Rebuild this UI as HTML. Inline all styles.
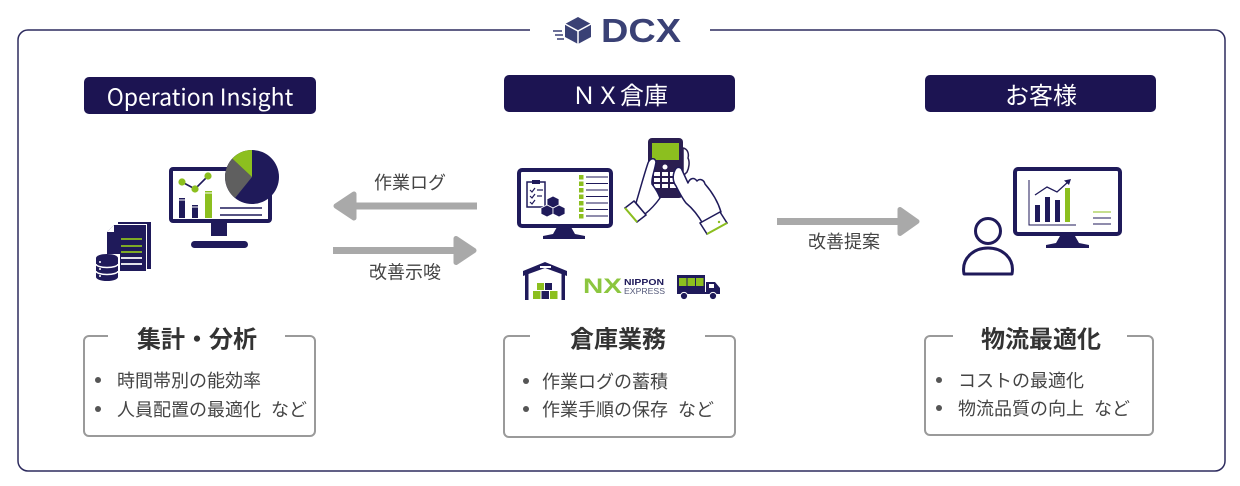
<!DOCTYPE html>
<html>
<head>
<meta charset="utf-8">
<style>
html,body{margin:0;padding:0;background:#fff;}
body{width:1240px;height:486px;overflow:hidden;}
svg{display:block;}
text{font-family:"Noto Sans CJK JP","Liberation Sans",sans-serif;}
</style>
</head>
<body>
<svg width="1240" height="486" viewBox="0 0 1240 486" xmlns="http://www.w3.org/2000/svg">
<rect width="1240" height="486" fill="#ffffff"/>

<!-- outer frame -->
<path d="M530,30 L28,30 A10,10 0 0 0 18,40 L18,461 A10,10 0 0 0 28,471 L1215,471 A10,10 0 0 0 1225,461 L1225,40 A10,10 0 0 0 1215,30 L710,30" fill="none" stroke="#2d2b5e" stroke-width="1.5"/>

<!-- DCX logo -->
<g>
  <line x1="553" y1="31" x2="562" y2="31" stroke="#3a4175" stroke-width="1.5"/>
  <line x1="555" y1="35" x2="563" y2="35" stroke="#3a4175" stroke-width="1.5"/>
  <line x1="557" y1="39" x2="564" y2="39" stroke="#3a4175" stroke-width="1.5"/>
  <polygon points="578,17 591,24 591,37 578,44 565,37 565,24" fill="#3a4175"/>
  <polyline points="565,24 578,31 591,24" fill="none" stroke="#fff" stroke-width="1.5"/>
  <line x1="578" y1="31" x2="578" y2="44" stroke="#fff" stroke-width="1.5"/>
  <text x="601" y="42" font-family="Liberation Sans, sans-serif" font-weight="bold" font-size="33" fill="#3a4175" textLength="80" lengthAdjust="spacingAndGlyphs" style="font-family:'Liberation Sans',sans-serif">DCX</text>
</g>

<!-- header boxes -->
<rect x="84" y="77" width="232" height="37" rx="5" fill="#1c1452"/>
<text x="200" y="95.5" text-anchor="middle" dominant-baseline="central" font-size="23" fill="#ffffff">Operation Insight</text>
<rect x="504" y="75" width="231" height="37" rx="5" fill="#1c1452"/>
<text x="620" y="93.5" text-anchor="middle" dominant-baseline="central" font-size="24" fill="#ffffff">ＮＸ倉庫</text>
<rect x="925" y="75" width="231" height="37" rx="5" fill="#1c1452"/>
<text x="1041" y="93.5" text-anchor="middle" dominant-baseline="central" font-size="24" fill="#ffffff">お客様</text>

<!-- Operation Insight icon -->
<g>
  <rect x="171" y="169" width="99" height="52" rx="2" fill="#fff" stroke="#1f1a5a" stroke-width="4"/>
  <rect x="211" y="223" width="16" height="13" fill="#1f1a5a"/>
  <rect x="191" y="241" width="57" height="7" rx="3.5" fill="#1f1a5a"/>
  <polyline points="182,182 195,189 208,176" fill="none" stroke="#1f1a5a" stroke-width="1.6"/>
  <circle cx="182" cy="182" r="3.6" fill="#8cbf1f"/>
  <circle cx="195" cy="189" r="3.6" fill="#8cbf1f"/>
  <circle cx="208" cy="176" r="3.6" fill="#8cbf1f"/>
  <rect x="179" y="198" width="6" height="20" fill="#1f1a5a"/>
  <rect x="179" y="199.5" width="6" height="1" fill="#fff"/>
  <rect x="192" y="205" width="6" height="13" fill="#1f1a5a"/>
  <rect x="192" y="206.5" width="6" height="1" fill="#fff"/>
  <rect x="205" y="191" width="7" height="27" fill="#8cbf1f"/>
  <rect x="205" y="192.5" width="7" height="1" fill="#fff"/>
  <line x1="220" y1="208" x2="262" y2="208" stroke="#1f1a5a" stroke-width="1.5"/>
  <line x1="220" y1="215" x2="262" y2="215" stroke="#1f1a5a" stroke-width="1.5"/>
  <circle cx="252" cy="177" r="27" fill="#1f1a5a"/>
  <path d="M252,177 L235,198 A27,27 0 0 1 232.3,158.6 Z" fill="#5f5f5f"/>
  <path d="M252,177 L232.3,158.6 A27,27 0 0 1 252,150 Z" fill="#8cbf1f"/>
  <!-- docs -->
  <rect x="118" y="222" width="33" height="47" fill="#1f1a5a"/>
  <rect x="116" y="224" width="31" height="46" fill="#fff"/>
  <polygon points="107,232 114,225 146,225 146,271 107,271" fill="#1f1a5a"/>
  <polygon points="107,232 114,232 114,225" fill="#fff"/>
  <line x1="121" y1="239" x2="142" y2="239" stroke="#8cbf1f" stroke-width="1.8"/>
  <line x1="121" y1="246" x2="142" y2="246" stroke="#8cbf1f" stroke-width="1.8"/>
  <line x1="121" y1="252" x2="142" y2="252" stroke="#8cbf1f" stroke-width="1.8"/>
  <line x1="121" y1="258" x2="142" y2="258" stroke="#fff" stroke-width="1.8"/>
  <line x1="121" y1="264" x2="142" y2="264" stroke="#fff" stroke-width="1.8"/>
  <!-- database -->
  <rect x="95" y="254" width="25" height="28" fill="#fff"/>
  <path d="M96,258 A11,4 0 0 1 118,258 L118,277 A11,4 0 0 1 96,277 Z" fill="#1f1a5a"/>
  <path d="M96,264 A11,3.5 0 0 0 118,264" fill="none" stroke="#fff" stroke-width="1.5"/>
  <path d="M96,271 A11,3.5 0 0 0 118,271" fill="none" stroke="#fff" stroke-width="1.5"/>
  <circle cx="100" cy="262" r="1" fill="#fff"/>
  <circle cx="100" cy="269" r="1" fill="#fff"/>
  <circle cx="100" cy="276" r="1" fill="#fff"/>
</g>

<!-- arrows -->
<g fill="#a9a9a9" stroke="#a9a9a9" stroke-linejoin="round">
  <rect x="350" y="202.5" width="127" height="7" stroke="none"/>
  <polygon points="336,206 354,194 354,218" stroke-width="5"/>
  <rect x="333" y="247" width="127" height="7" stroke="none"/>
  <polygon points="474,250.5 456,238.5 456,262.5" stroke-width="5"/>
  <rect x="777" y="218" width="128" height="7" stroke="none"/>
  <polygon points="917,221.5 900,209.5 900,233.5" stroke-width="5"/>
</g>
<text x="410" y="182" text-anchor="middle" dominant-baseline="central" font-size="18" fill="#444">作業ログ</text>
<text x="405" y="271.5" text-anchor="middle" dominant-baseline="central" font-size="18" fill="#444">改善示唆</text>
<text x="844" y="241" text-anchor="middle" dominant-baseline="central" font-size="18" fill="#444">改善提案</text>

<!-- NX warehouse icons -->
<g>
  <rect x="519" y="170" width="92" height="56" rx="3" fill="#fff" stroke="#1f1a5a" stroke-width="4"/>
  <polygon points="557,227 571,227 575,234 585,236 585,239 543,239 543,236 553,234" fill="#1f1a5a"/>
  <!-- clipboard -->
  <rect x="527" y="182" width="18" height="25" fill="#fff" stroke="#1f1a5a" stroke-width="1.5"/>
  <rect x="532" y="180" width="8" height="4" fill="#1f1a5a"/>
  <polyline points="530,190 532,192 535,188" fill="none" stroke="#1f1a5a" stroke-width="1.2"/>
  <line x1="537" y1="190" x2="543" y2="190" stroke="#1f1a5a" stroke-width="1.2"/>
  <polyline points="530,196 532,198 535,194" fill="none" stroke="#1f1a5a" stroke-width="1.2"/>
  <line x1="537" y1="196" x2="542" y2="196" stroke="#1f1a5a" stroke-width="1.2"/>
  <polyline points="530,202 532,204 535,200" fill="none" stroke="#1f1a5a" stroke-width="1.2"/>
  <!-- cubes -->
  <polygon points="553,196 559,199 559,205 553,208 547,205 547,199" fill="#1f1a5a" stroke="#fff" stroke-width="0.8"/>
  <polygon points="547,205 553,208 553,214 547,217 541,214 541,208" fill="#1f1a5a" stroke="#fff" stroke-width="0.8"/>
  <polygon points="559,205 565,208 565,214 559,217 553,214 553,208" fill="#1f1a5a" stroke="#fff" stroke-width="0.8"/>
  <!-- checklist -->
  <g fill="#8cbf1f">
    <rect x="579" y="175" width="4.5" height="4.5"/><rect x="579" y="181.5" width="4.5" height="4.5"/>
    <rect x="579" y="188" width="4.5" height="4.5"/><rect x="579" y="194.5" width="4.5" height="4.5"/>
    <rect x="579" y="201" width="4.5" height="4.5"/><rect x="579" y="207.5" width="4.5" height="4.5"/>
    <rect x="579" y="214" width="4.5" height="4.5"/>
  </g>
  <g stroke="#1f1a5a" stroke-width="0.9">
    <line x1="586" y1="177" x2="608" y2="177"/><line x1="586" y1="183.5" x2="608" y2="183.5"/>
    <line x1="586" y1="190" x2="608" y2="190"/><line x1="586" y1="196.5" x2="608" y2="196.5"/>
    <line x1="586" y1="203" x2="608" y2="203"/><line x1="586" y1="209.5" x2="608" y2="209.5"/>
    <line x1="586" y1="216" x2="608" y2="216"/>
  </g>
  <!-- handheld -->
  <path d="M683,148 C688,149 689,154 688,158 C690,162 689,168 687,172 L683,176 Z" fill="#fff" stroke="#2a1e50" stroke-width="1.5"/>
  <rect x="648" y="138" width="35" height="60" rx="4" fill="#2a1e50"/>
  <rect x="652" y="143" width="27" height="17" fill="#8cbf1f"/>
  <g fill="#fff">
    <circle cx="665" cy="167" r="2.5"/>
    <rect x="654" y="172" width="6" height="4"/><rect x="662" y="172" width="6" height="4"/><rect x="670" y="172" width="6" height="4"/>
    <rect x="654" y="178" width="6" height="4"/><rect x="662" y="178" width="6" height="4"/><rect x="670" y="178" width="6" height="4"/>
    <rect x="654" y="184" width="6" height="4"/><rect x="662" y="184" width="6" height="4"/><rect x="670" y="184" width="6" height="4"/>
  </g>
  <!-- left hand -->
  <path d="M636,203 C640,190 643,178 648,163 C650,158 655,157 656,162 C655,170 651,178 652,184 C655,188 658,192 660,198 C655,205 650,210 645,214 Z" fill="#fff" stroke="#1f1a5a" stroke-width="1.5" stroke-linejoin="round"/>
  <polygon points="625,208 634,201 646,215 637,222" fill="#fff" stroke="#1f1a5a" stroke-width="1.5"/>
  <line x1="625" y1="208" x2="637" y2="222" stroke="#8cbf1f" stroke-width="2"/>
  <!-- right hand -->
  <path d="M675,170 C677,166 681,167 682,170 L688,183 C690,178 694,177 697,181 C700,178 704,180 705,184 C712,192 718,202 721,212 L703,224 C698,215 692,208 686,203 C682,198 679,192 676,186 C673,182 672,176 675,170 Z" fill="#fff" stroke="#1f1a5a" stroke-width="1.5" stroke-linejoin="round"/>
  <polygon points="700,223 720,212 727,223 707,234" fill="#fff" stroke="#1f1a5a" stroke-width="1.5"/>
  <line x1="707" y1="234" x2="727" y2="223" stroke="#8cbf1f" stroke-width="2"/>
  <circle cx="719" cy="222" r="1.2" fill="#8cbf1f"/>
  <!-- warehouse -->
  <polygon points="545,262 567,271 567,276 545,268 523,276 523,271" fill="#1f1a5a"/>
  <rect x="525" y="273" width="3.5" height="27" fill="#1f1a5a"/>
  <rect x="561.5" y="273" width="3.5" height="27" fill="#1f1a5a"/>
  <rect x="540" y="266" width="11" height="2" fill="#fff"/>
  <rect x="537" y="283" width="7" height="7" fill="#8cbf1f"/>
  <rect x="545" y="283" width="7" height="7" fill="#1f1a5a"/>
  <rect x="533" y="291" width="7.5" height="8" fill="#8cbf1f"/>
  <rect x="541.5" y="291" width="7.5" height="8" fill="#1f1a5a"/>
  <rect x="550" y="291" width="7.5" height="8" fill="#8cbf1f"/>
  <!-- NX logo -->
  <text x="583" y="293" font-family="Liberation Sans, sans-serif" font-weight="bold" font-size="21" fill="#8cc63f" textLength="39" lengthAdjust="spacingAndGlyphs" style="font-family:'Liberation Sans',sans-serif">NX</text>
  <text x="624" y="285" font-family="Liberation Sans, sans-serif" font-weight="bold" font-size="8.5" fill="#1f1a5a" textLength="40" lengthAdjust="spacingAndGlyphs" style="font-family:'Liberation Sans',sans-serif">NIPPON</text>
  <text x="624" y="294" font-family="Liberation Sans, sans-serif" font-size="8" fill="#555a7a" textLength="41" lengthAdjust="spacingAndGlyphs" style="font-family:'Liberation Sans',sans-serif">EXPRESS</text>
  <!-- truck -->
  <rect x="677" y="275" width="28" height="17" fill="#1f1a5a"/>
  <rect x="679" y="278" width="7.5" height="8" fill="#8cbf1f"/>
  <rect x="687.5" y="278" width="7.5" height="8" fill="#8cbf1f"/>
  <rect x="696" y="278" width="7.5" height="8" fill="#8cbf1f"/>
  <path d="M706,282 L715,282 L720,288 L720,294 L706,294 Z" fill="#1f1a5a"/>
  <rect x="709" y="284" width="5" height="4" fill="#fff"/>
  <rect x="677" y="292" width="43" height="2" fill="#1f1a5a"/>
  <circle cx="684" cy="296" r="3.6" fill="#1f1a5a" stroke="#fff" stroke-width="1"/>
  <circle cx="713" cy="296" r="3.6" fill="#1f1a5a" stroke="#fff" stroke-width="1"/>
</g>

<!-- customer icons -->
<g>
  <rect x="1015" y="169" width="105" height="65" rx="3" fill="#fff" stroke="#1f1a5a" stroke-width="4"/>
  <polygon points="1060,236 1075,236 1079,243 1089,245 1089,248 1046,248 1046,245 1056,243" fill="#1f1a5a"/>
  <polyline points="1029,180 1029,225 1076,225" fill="none" stroke="#1f1a5a" stroke-width="1"/>
  <rect x="1035" y="205" width="5" height="17" fill="#1f1a5a"/>
  <rect x="1045" y="197" width="5" height="25" fill="#1f1a5a"/>
  <rect x="1055" y="200" width="5" height="22" fill="#1f1a5a"/>
  <rect x="1065" y="188" width="5" height="34" fill="#8cbf1f"/>
  <polyline points="1035,195 1047,187 1057,192 1068,182" fill="none" stroke="#1f1a5a" stroke-width="1.3"/>
  <polygon points="1071,179 1064,180.5 1069,185" fill="#1f1a5a"/>
  <line x1="1093" y1="212" x2="1111" y2="212" stroke="#8cbf1f" stroke-width="1"/>
  <line x1="1093" y1="218" x2="1111" y2="218" stroke="#1f1a5a" stroke-width="1"/>
  <line x1="1093" y1="224" x2="1111" y2="224" stroke="#1f1a5a" stroke-width="1"/>
  <circle cx="988" cy="231" r="12.5" fill="none" stroke="#1f1a5a" stroke-width="3"/>
  <path d="M964,274 C961,258 974,248 988,248 C1002,248 1015,258 1012,274 Z" fill="none" stroke="#1f1a5a" stroke-width="3" stroke-linejoin="round"/>
</g>

<!-- bottom boxes -->
<g fill="none" stroke="#9a9a9a" stroke-width="2">
  <path d="M108,336 L89,336 A5,5 0 0 0 84,341 L84,431 A5,5 0 0 0 89,436 L310,436 A5,5 0 0 0 315,431 L315,341 A5,5 0 0 0 310,336 L285,336"/>
  <path d="M530,336 L509,336 A5,5 0 0 0 504,341 L504,432 A5,5 0 0 0 509,437 L730,437 A5,5 0 0 0 735,432 L735,341 A5,5 0 0 0 730,336 L705,336"/>
  <path d="M953,336 L930,336 A5,5 0 0 0 925,341 L925,430 A5,5 0 0 0 930,435 L1148,435 A5,5 0 0 0 1153,430 L1153,341 A5,5 0 0 0 1148,336 L1127,336"/>
</g>
<g font-size="24" font-weight="bold" fill="#333" text-anchor="middle">
  <text x="197" y="337" dominant-baseline="central">集計・分析</text>
  <text x="618" y="337" dominant-baseline="central">倉庫業務</text>
  <text x="1041" y="337" dominant-baseline="central">物流最適化</text>
</g>
<g fill="#555">
  <circle cx="98" cy="380" r="3"/><circle cx="98" cy="409" r="3"/>
  <circle cx="526" cy="381" r="3"/><circle cx="526" cy="409" r="3"/>
  <circle cx="939" cy="380" r="3"/><circle cx="939" cy="408" r="3"/>
</g>
<g font-size="18" fill="#444">
  <text x="117" y="380" dominant-baseline="central">時間帯別の能効率</text>
  <text x="117" y="409" dominant-baseline="central">人員配置の最適化<tspan dx="10">など</tspan></text>
  <text x="542" y="381" dominant-baseline="central">作業ログの蓄積</text>
  <text x="542" y="409" dominant-baseline="central">作業手順の保存<tspan dx="10">など</tspan></text>
  <text x="958" y="380" dominant-baseline="central">コストの最適化</text>
  <text x="958" y="408" dominant-baseline="central">物流品質の向上<tspan dx="10">など</tspan></text>
</g>
</svg>
</body>
</html>
